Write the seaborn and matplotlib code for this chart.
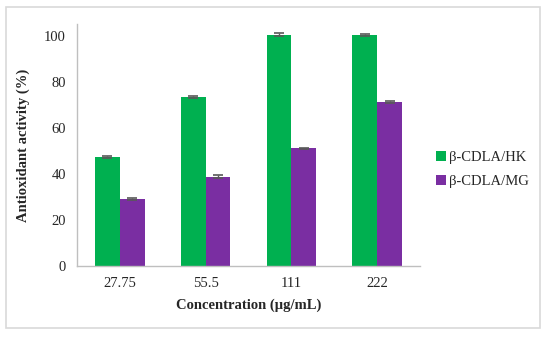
import pandas as pd
import matplotlib.pyplot as plt
import seaborn as sns
from matplotlib.patches import Rectangle

# Data
concentrations = ["27.75", "55.5", "111", "222"]
series_names = ["β-CDLA/HK", "β-CDLA/MG"]
hk_values = [47.2, 73.4, 100.4, 100.3]
mg_values = [29.0, 38.8, 51.0, 71.0]
hk_errors = [0.5, 0.5, 0.6, 0.5]
mg_errors = [0.4, 0.5, 0.4, 0.4]

colors = ["#00B050", "#7A2EA2"]

df = pd.DataFrame({
    "Concentration": concentrations * 2,
    "Sample": [series_names[0]] * 4 + [series_names[1]] * 4,
    "Activity": hk_values + mg_values,
})

sns.set_style("white")
plt.rcParams['font.family'] = ['Liberation Serif', 'DejaVu Serif']

fig = plt.figure(figsize=(5.5, 3.42), dpi=100)
ax = fig.add_axes([77 / 550, 1 - 266 / 342, 343 / 550, 242 / 342])

sns.barplot(data=df, x="Concentration", y="Activity", hue="Sample",
            palette=colors, order=concentrations, hue_order=series_names,
            width=0.58, saturation=1, errorbar=None, ax=ax, legend=True,
            linewidth=0)

# error bars on each bar, positioned from the drawn patches
errs = [hk_errors, mg_errors]
for container, err in zip(ax.containers, errs):
    for bar, e in zip(container, err):
        xc = bar.get_x() + bar.get_width() / 2
        ax.errorbar(xc, bar.get_height(), yerr=e, color="#595959",
                    capsize=3.5, elinewidth=1, capthick=1.2, zorder=5)

ax.set_ylim(0, 105)
ax.set_yticks([0, 20, 40, 60, 80, 100])
ax.set_xlim(-0.5, 3.5)
ax.tick_params(axis="both", length=0, labelsize=10.5, pad=8)
for side in ["top", "right"]:
    ax.spines[side].set_visible(False)
for side in ["left", "bottom"]:
    ax.spines[side].set_color("#BFBFBF")
    ax.spines[side].set_linewidth(1)

ax.set_xlabel("Concentration (µg/mL)", fontsize=10.5, fontweight="bold", labelpad=6)
ax.set_ylabel("Antioxidant activity (%)", fontsize=10.5, fontweight="bold", labelpad=10)

leg = ax.legend(loc="center left", bbox_to_anchor=(1.03, 0.40), frameon=False,
                fontsize=10.5, handlelength=0.7, handleheight=0.7, handletextpad=0.2,
                labelspacing=0.75, borderaxespad=0)

# outer chart border
fig.add_artist(Rectangle((6 / 550, 1 - 328 / 342), 534 / 550, 321 / 342,
                         transform=fig.transFigure, fill=False,
                         edgecolor="#D9D9D9", linewidth=1.2))

fig.savefig("out.png", dpi=100)
